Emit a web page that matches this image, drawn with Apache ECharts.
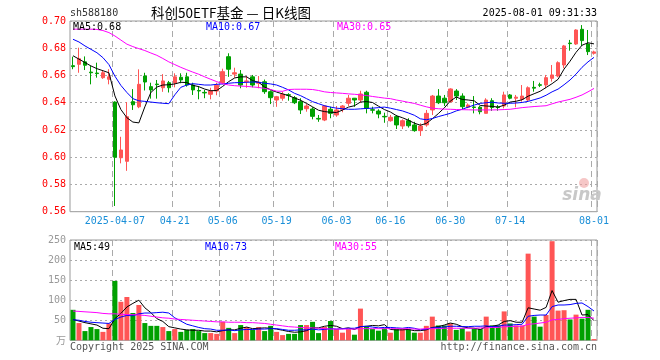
<!DOCTYPE html>
<html><head><meta charset="utf-8">
<script src="https://cdn.jsdelivr.net/npm/echarts@6/dist/echarts.min.js"></script>
<style>html,body{margin:0;padding:0;background:#fff;}#c{width:660px;height:360px;}</style>
</head><body><div id="c"></div>
<script>
const dates = ['2025-03-26','2025-03-27','2025-03-28','2025-03-31','2025-04-01','2025-04-02','2025-04-03','2025-04-07','2025-04-08','2025-04-09','2025-04-10','2025-04-11','2025-04-14','2025-04-15','2025-04-16','2025-04-17','2025-04-18','2025-04-21','2025-04-22','2025-04-23','2025-04-24','2025-04-25','2025-04-28','2025-04-29','2025-04-30','2025-05-06','2025-05-07','2025-05-08','2025-05-09','2025-05-12','2025-05-13','2025-05-14','2025-05-15','2025-05-16','2025-05-19','2025-05-20','2025-05-21','2025-05-22','2025-05-23','2025-05-26','2025-05-27','2025-05-28','2025-05-29','2025-05-30','2025-06-03','2025-06-04','2025-06-05','2025-06-06','2025-06-09','2025-06-10','2025-06-11','2025-06-12','2025-06-13','2025-06-16','2025-06-17','2025-06-18','2025-06-19','2025-06-20','2025-06-23','2025-06-24','2025-06-25','2025-06-26','2025-06-27','2025-06-30','2025-07-01','2025-07-02','2025-07-03','2025-07-04','2025-07-07','2025-07-08','2025-07-09','2025-07-10','2025-07-11','2025-07-14','2025-07-15','2025-07-16','2025-07-17','2025-07-18','2025-07-21','2025-07-22','2025-07-23','2025-07-24','2025-07-25','2025-07-28','2025-07-29','2025-07-30','2025-07-31','2025-08-01'];

const opens = [0.6672,0.6682,0.6700,0.6625,0.6618,0.6584,0.6572,0.6405,0.5996,0.5970,
0.6408,0.6370,0.6596,0.6518,0.6537,0.6510,0.6547,0.6545,0.6587,0.6590,
0.6530,0.6490,0.6476,0.6462,0.6486,0.6547,0.6738,0.6610,0.6610,0.6555,
0.6590,0.6543,0.6554,0.6481,0.6420,0.6433,0.6459,0.6437,0.6408,0.6356,
0.6354,0.6285,0.6273,0.6352,0.6310,0.6352,0.6396,0.6433,0.6420,0.6477,
0.6349,0.6339,0.6300,0.6268,0.6298,0.6229,0.6268,0.6237,0.6195,0.6237,
0.6347,0.6449,0.6433,0.6408,0.6486,0.6449,0.6367,0.6369,0.6367,0.6322,
0.6415,0.6369,0.6376,0.6457,0.6433,0.6425,0.6420,0.6513,0.6532,0.6530,
0.6579,0.6596,0.6677,0.6838,0.6831,0.6939,0.6831,0.6763];

const closes = [0.6665,0.6723,0.6675,0.6620,0.6614,0.6620,0.6590,0.6000,0.6053,0.6297,
0.6385,0.6535,0.6552,0.6494,0.6533,0.6560,0.6510,0.6590,0.6567,0.6530,
0.6494,0.6486,0.6472,0.6486,0.6528,0.6628,0.6646,0.6620,0.6530,0.6560,
0.6530,0.6550,0.6481,0.6437,0.6444,0.6462,0.6455,0.6400,0.6347,0.6376,
0.6300,0.6280,0.6376,0.6322,0.6347,0.6376,0.6433,0.6420,0.6464,0.6359,
0.6345,0.6317,0.6296,0.6293,0.6237,0.6268,0.6231,0.6195,0.6229,0.6322,
0.6449,0.6400,0.6400,0.6501,0.6449,0.6371,0.6383,0.6365,0.6334,0.6420,
0.6365,0.6365,0.6457,0.6433,0.6441,0.6449,0.6510,0.6507,0.6528,0.6584,
0.6604,0.6694,0.6817,0.6834,0.6934,0.6856,0.6775,0.6773];

const lows = [0.6646,0.6620,0.6640,0.6535,0.6584,0.6575,0.6535,0.5642,0.5955,0.5900,
0.6347,0.6360,0.6490,0.6430,0.6430,0.6480,0.6475,0.6513,0.6543,0.6518,
0.6457,0.6425,0.6433,0.6425,0.6455,0.6535,0.6590,0.6584,0.6506,0.6510,
0.6513,0.6506,0.6465,0.6390,0.6370,0.6415,0.6415,0.6390,0.6317,0.6334,
0.6278,0.6260,0.6265,0.6286,0.6297,0.6330,0.6376,0.6370,0.6400,0.6322,
0.6322,0.6286,0.6253,0.6261,0.6207,0.6207,0.6217,0.6187,0.6156,0.6224,
0.6310,0.6390,0.6376,0.6400,0.6420,0.6352,0.6360,0.6322,0.6315,0.6322,
0.6340,0.6341,0.6359,0.6425,0.6367,0.6408,0.6405,0.6481,0.6515,0.6506,
0.6555,0.6587,0.6653,0.6782,0.6824,0.6817,0.6750,0.6753];

const highs = [0.6738,0.6804,0.6740,0.6670,0.6694,0.6640,0.6646,0.6410,0.6150,0.6405,
0.6500,0.6645,0.6620,0.6547,0.6567,0.6610,0.6560,0.6616,0.6616,0.6620,
0.6547,0.6523,0.6494,0.6510,0.6547,0.6650,0.6763,0.6657,0.6640,0.6596,
0.6604,0.6596,0.6570,0.6490,0.6450,0.6481,0.6470,0.6449,0.6433,0.6390,
0.6367,0.6310,0.6383,0.6371,0.6376,0.6383,0.6457,0.6435,0.6488,0.6488,
0.6371,0.6352,0.6327,0.6310,0.6310,0.6278,0.6286,0.6260,0.6249,0.6347,
0.6457,0.6500,0.6457,0.6506,0.6500,0.6469,0.6395,0.6449,0.6376,0.6433,
0.6433,0.6383,0.6481,0.6464,0.6457,0.6530,0.6520,0.6560,0.6547,0.6604,
0.6677,0.6704,0.6824,0.6861,0.6939,0.6970,0.6934,0.6782];

const ma5 = [0.6745,0.6720,0.6695,0.6670,0.6650,0.6635,0.6620,0.6450,0.6350,0.6290,
0.6258,0.6252,0.6370,0.6475,0.6515,0.6530,0.6532,0.6538,0.6550,0.6548,
0.6528,0.6518,0.6500,0.6488,0.6490,0.6520,0.6555,0.6582,0.6590,0.6590,
0.6562,0.6550,0.6515,0.6495,0.6478,0.6465,0.6452,0.6435,0.6418,0.6395,
0.6370,0.6345,0.6335,0.6330,0.6328,0.6346,0.6368,0.6378,0.6405,0.6408,
0.6402,0.6375,0.6350,0.6332,0.6305,0.6290,0.6272,0.6250,0.6235,0.6248,
0.6282,0.6320,0.6362,0.6412,0.6442,0.6424,0.6420,0.6414,0.6380,0.6376,
0.6373,0.6368,0.6382,0.6405,0.6411,0.6422,0.6448,0.6466,0.6484,0.6512,
0.6540,0.6572,0.6647,0.6705,0.6770,0.6822,0.6840,0.6832];

const ma10 = [0.6866,0.6846,0.6817,0.6792,0.6767,0.6731,0.6680,0.6595,0.6527,0.6475,
0.6430,0.6414,0.6410,0.6405,0.6400,0.6396,0.6393,0.6458,0.6513,0.6530,
0.6540,0.6535,0.6530,0.6530,0.6535,0.6538,0.6543,0.6547,0.6548,0.6550,
0.6552,0.6550,0.6543,0.6538,0.6530,0.6513,0.6494,0.6469,0.6452,0.6430,
0.6408,0.6393,0.6378,0.6368,0.6360,0.6356,0.6352,0.6352,0.6355,0.6358,
0.6360,0.6364,0.6368,0.6360,0.6350,0.6340,0.6325,0.6308,0.6282,0.6275,
0.6284,0.6298,0.6310,0.6322,0.6340,0.6352,0.6368,0.6383,0.6395,0.6400,
0.6404,0.6398,0.6396,0.6396,0.6398,0.6402,0.6410,0.6422,0.6435,0.6455,
0.6480,0.6500,0.6532,0.6567,0.6610,0.6660,0.6700,0.6733];

const ma30 = [0.6940,0.6940,0.6940,0.6940,0.6938,0.6930,0.6915,0.6890,0.6860,0.6830,
0.6812,0.6797,0.6783,0.6765,0.6748,0.6725,0.6700,0.6680,0.6660,0.6642,
0.6625,0.6609,0.6590,0.6572,0.6555,0.6540,0.6530,0.6525,0.6522,0.6520,
0.6516,0.6512,0.6505,0.6497,0.6485,0.6484,0.6497,0.6499,0.6499,0.6499,
0.6497,0.6490,0.6480,0.6475,0.6472,0.6469,0.6465,0.6462,0.6458,0.6453,
0.6446,0.6440,0.6434,0.6430,0.6420,0.6412,0.6403,0.6395,0.6382,0.6370,
0.6360,0.6356,0.6353,0.6352,0.6350,0.6349,0.6348,0.6347,0.6347,0.6347,
0.6347,0.6348,0.6350,0.6352,0.6358,0.6364,0.6368,0.6372,0.6375,0.6378,
0.6392,0.6405,0.6415,0.6425,0.6440,0.6457,0.6480,0.6505];

const volumes = [76,43,23,33,28,21,42,148,96,108,
68,88,43,36,36,33,23,28,21,26,
28,23,18,18,16,46,31,18,38,33,
26,33,23,36,21,13,16,16,38,38,
46,18,33,48,28,19,28,14,79,34,
28,24,30,19,28,28,28,19,19,36,
59,37,37,42,26,30,22,30,28,59,
37,37,72,42,37,37,216,59,34,63,
247,74,75,52,64,54,76,3];

const vma5 = [52,48,44,41,38,30,29,54,67,83,
92,100,81,69,54,47,34,31,28,26,
25,25,23,23,21,24,26,26,30,33,
29,30,31,30,28,25,22,20,21,24,
31,31,35,37,35,29,31,27,34,35,
37,36,39,27,26,26,27,24,24,26,
32,34,38,43,40,34,31,30,27,34,
35,38,47,49,45,45,81,78,75,82,
124,95,99,102,102,63,64,49];

const vma10 = [51,50,47,45,44,43,42,52,58,62,
61,66,68,68,69,70,68,56,48,40,
36,32,29,28,25,25,26,24,26,27,
27,28,28,29,29,27,25,25,26,26,
28,26,27,29,28,29,30,30,34,35,
33,31,32,32,31,30,32,30,26,28,
31,32,33,35,35,34,34,35,35,36,
34,35,38,38,39,40,60,62,63,63,
84,88,88,89,92,93,84,73];

const vma30 = [73,72,71,70,69,67,66,66,65,64,
64,63,62,60,58,56,55,53,52,51,
50,49,48,47,46,46,45,45,45,44,
44,43,42,40,38,36,34,33,32,31,
31,30,29,28,28,28,28,28,29,29,
29,29,29,29,29,29,29,28,28,29,
29,29,30,30,30,30,30,30,31,31,
32,32,34,34,35,35,40,41,43,45,
51,52,54,55,56,57,57,55];

const priceMin = 0.56, priceMax = 0.70, priceStep = 0.02;
const volMin = 0, volMax = 250, volStep = 50;
const labelDates = ['2025-04-07','2025-04-21','2025-05-06','2025-05-19','2025-06-03','2025-06-16','2025-06-30','2025-07-14','2025-08-01'];

const upColor = '#ff5555', downColor = '#00a000';
const mono = '"DejaVu Sans Mono", "Liberation Mono", monospace';
const labelIdx = labelDates.map(d => dates.indexOf(d));
const isLabel = i => labelIdx.indexOf(i) >= 0;

const chart = echarts.init(document.getElementById('c'), null, {renderer: 'canvas'});

const vline = {show: true, interval: (i) => isLabel(i), lineStyle: {color: '#aaa', type: [6, 4], width: 1}};
const hline = {show: true, lineStyle: {color: '#aaa', type: [2, 3], width: 1}};

function lineSeries(data, color, x, y) {
  return {type: 'line', data: data, xAxisIndex: x, yAxisIndex: y, symbol: 'none', showSymbol: false,
    lineStyle: {color: color, width: 1}, itemStyle: {color: color}, z: 5, silent: true};
}

function txt(x, y, s, color, align, font) {
  return {type: 'text', x: x, y: y, z: 100, silent: true,
    style: {text: s, fill: color, align: align || 'left', verticalAlign: 'middle', font: font || ('10px ' + mono)}};
}

const option = {
  animation: false,
  backgroundColor: '#fff',
  grid: [
    {left: 70, right: 63, top: 21, height: 190.7, show: true, borderColor: '#999', borderWidth: 1, backgroundColor: 'transparent'},
    {left: 70, right: 63, top: 240, height: 100.3, show: true, borderColor: '#999', borderWidth: 1, backgroundColor: 'transparent'}
  ],
  xAxis: [
    {type: 'category', data: dates, gridIndex: 0, boundaryGap: true,
     axisLine: {show: false}, axisTick: {show: false},
     axisLabel: {interval: (i) => isLabel(i), formatter: (v, i) => (i === labelIdx[0] ? v : v.slice(5)),
       color: '#1a8fd8', fontFamily: mono, fontSize: 10, margin: 5},
     splitLine: vline},
    {type: 'category', data: dates, gridIndex: 1, boundaryGap: true,
     axisLine: {show: false}, axisTick: {show: false}, axisLabel: {show: false},
     splitLine: vline}
  ],
  yAxis: [
    {type: 'value', gridIndex: 0, min: priceMin, max: priceMax, interval: priceStep, scale: true,
     axisLine: {show: false}, axisTick: {show: false},
     axisLabel: {color: '#ff0000', fontFamily: mono, fontSize: 10, margin: 4, formatter: v => v.toFixed(2)},
     splitLine: hline},
    {type: 'value', gridIndex: 1, min: volMin, max: volMax, interval: volStep,
     axisLine: {show: false}, axisTick: {show: false},
     axisLabel: {color: '#999', fontFamily: mono, fontSize: 10, margin: 4, formatter: v => (v === 0 ? '' : String(v))},
     splitLine: hline}
  ],
  series: [
    {type: 'candlestick', xAxisIndex: 0, yAxisIndex: 0, barWidth: 4,
     data: dates.map((d, i) => [opens[i], closes[i], lows[i], highs[i]]),
     itemStyle: {color: upColor, color0: downColor, borderColor: upColor, borderColor0: downColor, borderWidth: 1}, z: 3},
    lineSeries(ma5, '#000000', 0, 0),
    lineSeries(ma10, '#0000ff', 0, 0),
    lineSeries(ma30, '#ff00ff', 0, 0),
    {type: 'bar', xAxisIndex: 1, yAxisIndex: 1, barWidth: 5, z: 3,
     data: volumes.map((v, i) => ({value: v, itemStyle: {color: closes[i] >= opens[i] ? upColor : downColor}}))},
    lineSeries(vma5, '#000000', 1, 1),
    lineSeries(vma10, '#0000ff', 1, 1),
    lineSeries(vma30, '#ff00ff', 1, 1)
  ],
  graphic: [
    txt(70, 13, 'sh588180', '#333'),
    txt(231, 13, '科创50ETF基金 — 日K线图', '#000', 'center', '13.5px "Noto Sans CJK SC", sans-serif'),
    txt(597, 13, '2025-08-01 09:31:33', '#000', 'right'),
    txt(73, 27, 'MA5:' + ma5[ma5.length - 1].toFixed(2), '#000'),
    txt(206, 27, 'MA10:' + ma10[ma10.length - 1].toFixed(2), '#0000ff'),
    txt(337, 27, 'MA30:' + ma30[ma30.length - 1].toFixed(2), '#ff00ff'),
    txt(74, 247, 'MA5:' + vma5[vma5.length - 1], '#000'),
    txt(205, 247, 'MA10:' + vma10[vma10.length - 1], '#0000ff'),
    txt(335, 247, 'MA30:' + vma30[vma30.length - 1], '#ff00ff'),
    txt(66, 340, '万', '#999', 'right', '10px "Noto Sans CJK SC", sans-serif'),
    txt(70, 347, 'Copyright 2025 SINA.COM', '#555'),
    txt(597, 347, 'http://finance.sina.com.cn', '#555', 'right'),
    txt(582, 196, 'sina', '#c8c8c8', 'center', 'italic bold 17px "DejaVu Sans", sans-serif'),
    {type: 'circle', shape: {cx: 584, cy: 183, r: 5}, style: {fill: 'rgba(240,160,160,0.6)'}, z: 99, silent: true}
  ]
};
chart.setOption(option);
</script></body></html>
